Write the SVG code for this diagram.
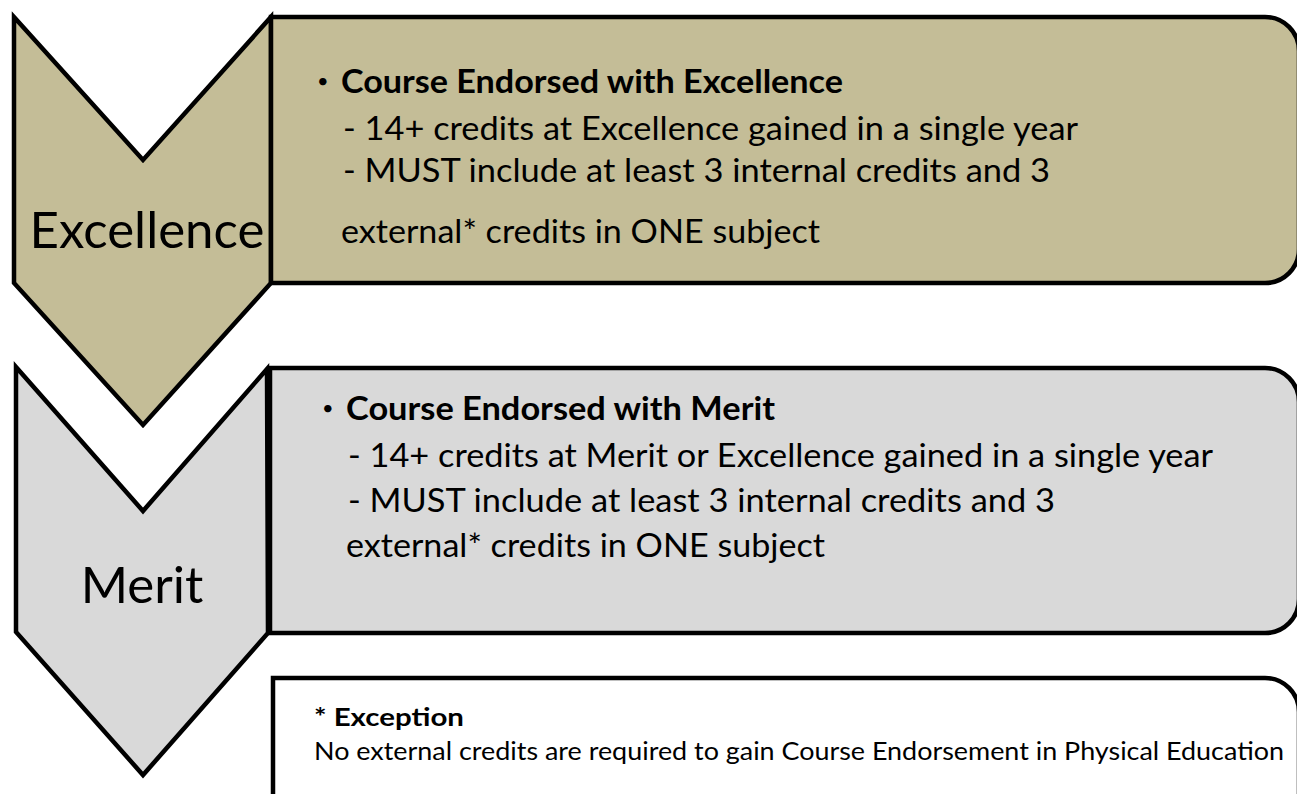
<svg xmlns="http://www.w3.org/2000/svg" width="1297" height="794" viewBox="0 0 1297 794">
<style>
.shape{stroke:#000;stroke-width:4.5;stroke-linejoin:miter}
.tan{fill:#C4BD97}
.grey{fill:#D9D9D9}
.white{fill:#FFFFFF}
.lbl{font-family:Lato,"Open Sans","Liberation Sans",sans-serif;font-size:51px;fill:#000;text-anchor:middle}
.body{font-family:Lato,"Open Sans","Liberation Sans",sans-serif;font-size:33px;fill:#000}
.b{font-weight:bold}
.small{font-family:Lato,"Open Sans","Liberation Sans",sans-serif;font-size:25px;fill:#000}
.dot{font-family:Lato,"Liberation Sans",sans-serif;font-size:20px;fill:#000}
</style>
<rect width="1297" height="794" fill="#FFFFFF"/>
<g id="excellence">
<polygon class="shape tan" points="14,17 143,160 271,17 271,283 143,425 14,283"/>
<path class="shape tan" d="M271,17 H1265 A34,34 0 0 1 1299,51 V249 A34,34 0 0 1 1265,283 H271 Z"/>
<text class="lbl" x="147" y="248">Excellence</text>
<text class="dot" x="317" y="88">•</text>
<text class="body b" x="341" y="93" textLength="502" lengthAdjust="spacingAndGlyphs">Course Endorsed with Excellence</text>
<text class="body" x="343" y="140" textLength="735" lengthAdjust="spacingAndGlyphs">- 14+ credits at Excellence gained in a single year</text>
<text class="body" x="343" y="182" textLength="707" lengthAdjust="spacingAndGlyphs">- MUST include at least 3 internal credits and 3</text>
<text class="body" x="341" y="243" textLength="479" lengthAdjust="spacingAndGlyphs">external* credits in ONE subject</text>
</g>
<g id="merit">
<polygon class="shape grey" points="16,367 143,511 267,369 268,633 143,775 16,632"/>
<path class="shape grey" d="M270,368 H1265 A34,34 0 0 1 1299,402 V599 A34,34 0 0 1 1265,633 H270 Z"/>
<text class="lbl" x="142" y="603">Merit</text>
<text class="dot" x="322" y="415">•</text>
<text class="body b" x="346" y="420" textLength="429" lengthAdjust="spacingAndGlyphs">Course Endorsed with Merit</text>
<text class="body" x="348" y="467" textLength="865" lengthAdjust="spacingAndGlyphs">- 14+ credits at Merit or Excellence gained in a single year</text>
<text class="body" x="348" y="512" textLength="707" lengthAdjust="spacingAndGlyphs">- MUST include at least 3 internal credits and 3</text>
<text class="body" x="346" y="557" textLength="479" lengthAdjust="spacingAndGlyphs">external* credits in ONE subject</text>
</g>
<g id="exception">
<path class="shape white" d="M273,678 H1265 A34,34 0 0 1 1299,712 V800 H273 Z"/>
<text class="small b" x="314" y="726" textLength="150" lengthAdjust="spacingAndGlyphs">* Exception</text>
<text class="small" x="314" y="760" textLength="970" lengthAdjust="spacingAndGlyphs">No external credits are required to gain Course Endorsement in Physical Education</text>
</g>
<g id="connectors"></g>
</svg>
